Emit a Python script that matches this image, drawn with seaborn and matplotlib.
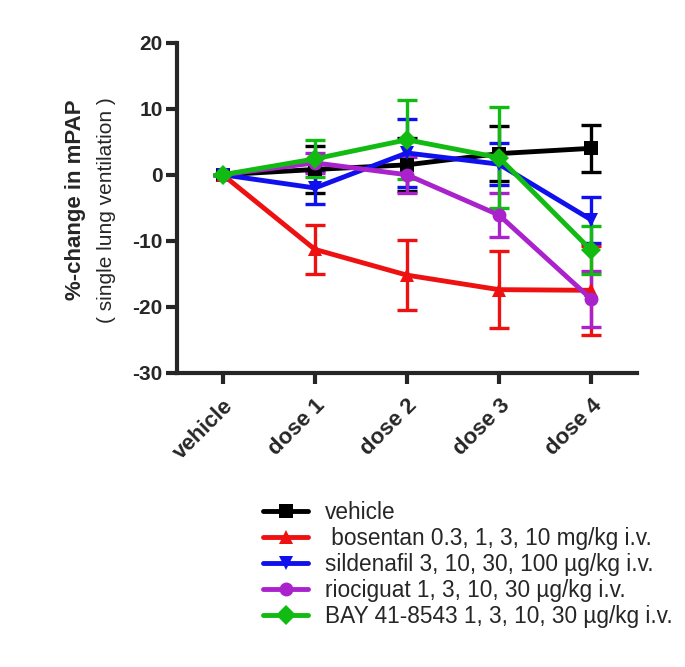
import numpy as np
import pandas as pd
import matplotlib
matplotlib.use("Agg")
import matplotlib.pyplot as plt
import seaborn as sns

# dados
doses = ["vehicle", "dose 1", "dose 2", "dose 3", "dose 4"]
grupos = ["vehicle",
          " bosentan 0.3, 1, 3, 10 mg/kg i.v.",
          "sildenafil 3, 10, 30, 100 µg/kg i.v.",
          "riociguat 1, 3, 10, 30 µg/kg i.v.",
          "BAY 41-8543 1, 3, 10, 30 µg/kg i.v."]

vehicle_media = [0, 0.8, 1.5, 3.2, 4.0]
vehicle_erro = [0, 3.5, 4.0, 4.2, 3.6]
bosentan_media = [0, -11.3, -15.2, -17.4, -17.5]
bosentan_erro = [0, 3.7, 5.3, 5.8, 6.7]
sildenafil_media = [0, -2.0, 3.3, 1.6, -6.8]
sildenafil_erro = [0, 2.5, 5.2, 3.2, 3.5]
riociguat_media = [0, 1.8, 0.0, -6.1, -18.8]
riociguat_erro = [0, 1.5, 2.7, 3.3, 4.2]
bay_media = [0, 2.4, 5.3, 2.6, -11.4]
bay_erro = [0, 2.8, 6.0, 7.7, 3.6]

cores = ["black", "#ee1111", "#1010ee", "#aa22cc", "#11bb11"]
marcadores = ["s", "^", "v", "o", "D"]

medias = [vehicle_media, bosentan_media, sildenafil_media, riociguat_media, bay_media]
erros = [vehicle_erro, bosentan_erro, sildenafil_erro, riociguat_erro, bay_erro]

linhas = []
for g, m, e in zip(grupos, medias, erros):
    for i, d in enumerate(doses):
        linhas.append({"Grupo": g, "x": i, "Dose": d, "Media": m[i], "Erro": e[i]})
dados = pd.DataFrame(linhas)

sns.set_style("ticks")
plt.rcParams["font.family"] = ["Liberation Sans", "DejaVu Sans"]
plt.rcParams["axes.unicode_minus"] = False

fig = plt.figure(figsize=(6.85, 6.67), dpi=100)
ax = fig.add_axes([0.258, 0.441, 0.672, 0.495])

for g, c in zip(grupos, cores):
    sub = dados[dados["Grupo"] == g]
    ax.errorbar(sub["x"], sub["Media"], yerr=sub["Erro"], fmt="none",
                ecolor=c, elinewidth=2.4, capsize=7, capthick=2.4, zorder=2)

sns.lineplot(data=dados, x="x", y="Media", hue="Grupo", style="Grupo",
             palette=cores, markers=marcadores, dashes=False, linewidth=3.5,
             markersize=10, markeredgewidth=0, ax=ax, zorder=3)

ax.set_xlim(-0.5, 4.5)
ax.set_ylim(-30, 20)
ax.set_yticks([-30, -20, -10, 0, 10, 20])
ax.set_xticks(range(len(doses)))
ax.set_xticklabels(doses, rotation=45, ha="right", rotation_mode="anchor",
                   fontsize=16, fontweight="bold")
for t in ax.get_yticklabels():
    t.set_fontsize(15)
    t.set_fontweight("bold")
ax.set_xlabel("")
ax.set_ylabel("")
sns.despine(ax=ax)
for s in ["left", "bottom"]:
    ax.spines[s].set_linewidth(3)
ax.tick_params(width=3, length=8, pad=2)
ax.tick_params(axis="x", pad=8)

fig.text(0.110, 0.70, "%-change in mPAP", rotation=90, ha="center", va="center",
         fontsize=16, fontweight="bold")
fig.text(0.156, 0.685, "( single lung ventilation )", rotation=90, ha="center",
         va="center", fontsize=15)

h, l = ax.get_legend_handles_labels()
ax.legend(h, l, loc="upper left", bbox_to_anchor=(0.168, -0.36), frameon=False,
          fontsize=16.3, handlelength=2.0, labelspacing=0.13, handletextpad=0.75,
          borderaxespad=0)

fig.savefig("out.png", dpi=100, facecolor="white")
